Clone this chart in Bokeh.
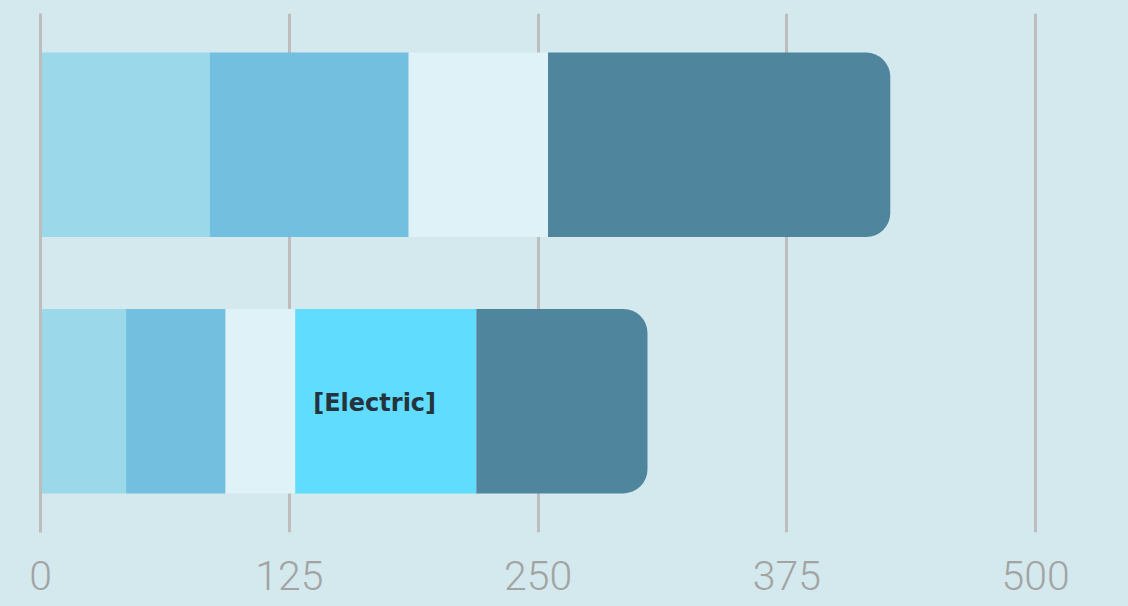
from bokeh.plotting import figure
from bokeh.models import ColumnDataSource, FactorRange, Range1d, Span, FixedTicker
from bokeh.core.properties import value
from bokeh.embed import file_html
from bokeh.resources import INLINE

# ---- data ----
categories = ["Lower", "Upper"]          # bottom bar, top bar
segments = ["Segment 1", "Segment 2", "Segment 3", "Electric", "Segment 5"]
seg1 = [43, 85]
seg2 = [50, 100]
seg3 = [35, 70]
electric = [91, 0]
seg5 = [86, 172]
tick_values = [0, 125, 250, 375, 500]

colors = ["#9bd9ea", "#72bfdf", "#def2f8", "#5fdcfe", "#50869d"]
BG = "#d3e9ed"

src = ColumnDataSource(dict(cat=categories, s1=seg1, s2=seg2, s3=seg3, el=electric, s5=seg5))

p = figure(
    width=1128, height=606,
    y_range=FactorRange(*categories, range_padding=0.012, range_padding_units="absolute"),
    x_range=Range1d(-20.1, 546.7),
    output_backend="svg", toolbar_location=None,
    min_border_left=0, min_border_right=0, min_border_top=13, min_border_bottom=74,
)
p.background_fill_color = BG
p.border_fill_color = BG
p.outline_line_color = None

rs = p.hbar_stack(["s1", "s2", "s3", "el", "s5"], y="cat", height=0.719, source=src,
                  color=colors, line_color=None)
try:
    rs[-1].glyph.border_radius = (0, 24, 24, 0)
except Exception:
    pass

# zero line on top
p.add_layout(Span(location=0, dimension="height", line_color="#bdbdbd", line_width=3, level="overlay"))

# Electric label
lab_x = [seg1[i] + seg2[i] + seg3[i] for i in range(len(categories)) if electric[i] > 0]
lab_y = [categories[i] for i in range(len(categories)) if electric[i] > 0]
p.text(x=lab_x, y=lab_y, text=["[Electric]"] * len(lab_x),
       x_offset=18, y_offset=2, text_align="left", text_baseline="middle",
       text_font=value("DejaVu Sans"), text_font_style="bold",
       text_font_size="24px", text_color="#25333d")

p.yaxis.visible = False
p.ygrid.grid_line_color = None
p.xgrid.grid_line_color = "#bdbdbd"
p.xgrid.grid_line_width = 3
p.xaxis.ticker = FixedTicker(ticks=tick_values)
p.xgrid.ticker = FixedTicker(ticks=tick_values)
p.xaxis.axis_line_color = None
p.xaxis.major_tick_line_color = None
p.xaxis.minor_tick_line_color = None
p.xaxis.major_label_standoff = 22
p.xaxis.major_label_text_font = "Roboto Light, Lato"
p.xaxis.major_label_text_font_size = "41px"
p.xaxis.major_label_text_color = "#a3a3a3"

template = """
{% block preamble %}
<style>body { background: #d3e9ed; }</style>
{% endblock %}
"""

open("out.html", "w").write(file_html(p, INLINE, template=template))
